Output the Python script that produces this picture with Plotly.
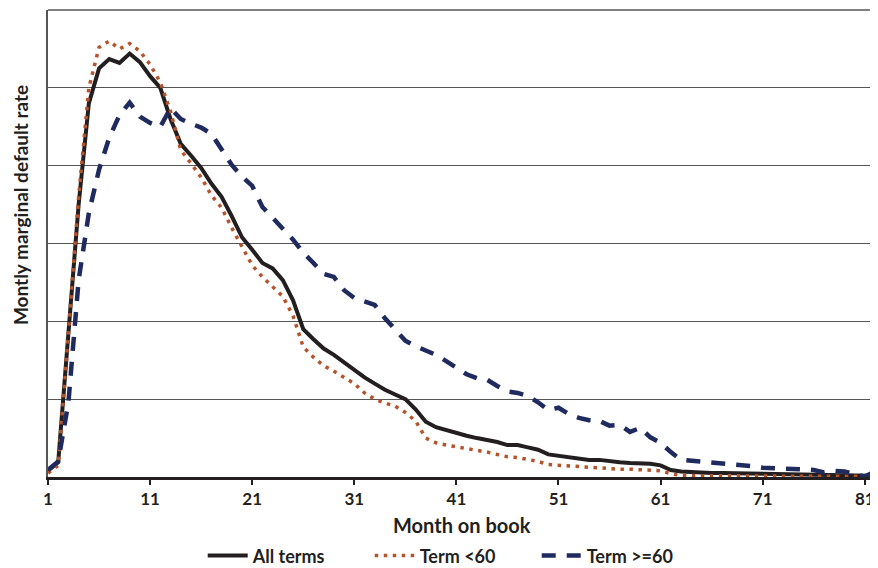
import plotly.graph_objects as go

months = list(range(1, 83))

all_terms = [0.08, 0.19, 1.85, 3.5, 4.8, 5.25, 5.37, 5.32, 5.44, 5.33,
             5.15, 5.0, 4.6, 4.28, 4.13, 3.97, 3.77, 3.6, 3.35, 3.08,
             2.92, 2.75, 2.68, 2.53, 2.27, 1.9, 1.77, 1.65, 1.57, 1.47,
             1.37, 1.28, 1.2, 1.12, 1.06, 1.0, 0.87, 0.71, 0.64, 0.6,
             0.57, 0.53, 0.5, 0.48, 0.45, 0.41, 0.41, 0.38, 0.35, 0.29,
             0.27, 0.25, 0.23, 0.22, 0.22, 0.2, 0.19, 0.18, 0.18, 0.17,
             0.15, 0.09, 0.07, 0.06, 0.055, 0.05, 0.05, 0.048, 0.046, 0.045,
             0.043, 0.04, 0.04, 0.038, 0.035, 0.033, 0.03, 0.028, 0.025, 0.02,
             0.018, 0.015]

term_lt60 = [0.05, 0.15, 1.85, 3.6, 5.0, 5.52, 5.6, 5.5, 5.57, 5.47,
             5.3, 5.07, 4.7, 4.2, 4.03, 3.85, 3.62, 3.46, 3.2, 2.97,
             2.72, 2.57, 2.45, 2.32, 2.07, 1.67, 1.54, 1.43, 1.36, 1.28,
             1.2, 1.08, 1.0, 0.95, 0.91, 0.83, 0.72, 0.5, 0.44, 0.41,
             0.39, 0.36, 0.34, 0.32, 0.29, 0.26, 0.25, 0.23, 0.2, 0.16,
             0.15, 0.14, 0.13, 0.12, 0.12, 0.11, 0.1, 0.1, 0.09, 0.08,
             0.08, 0.04, 0.02, 0.018, 0.016, 0.015, 0.015, 0.014, 0.013, 0.012,
             0.012, 0.011, 0.011, 0.01, 0.01, 0.01, 0.01, 0.01, 0.01, 0.01,
             0.01, 0.01]

term_ge60 = [0.09, 0.2, 0.96, 2.53, 3.39, 3.95, 4.36, 4.65, 4.81, 4.63,
             4.55, 4.5, 4.74, 4.6, 4.54, 4.49, 4.41, 4.2, 4.01, 3.86,
             3.74, 3.47, 3.34, 3.19, 3.05, 2.88, 2.75, 2.61, 2.57, 2.4,
             2.3, 2.25, 2.21, 2.04, 1.89, 1.75, 1.68, 1.63, 1.57, 1.49,
             1.4, 1.32, 1.27, 1.25, 1.17, 1.1, 1.08, 1.04, 0.96, 0.86,
             0.89, 0.81, 0.76, 0.73, 0.72, 0.66, 0.67, 0.58, 0.63, 0.51,
             0.44, 0.32, 0.22, 0.21, 0.2, 0.19, 0.18, 0.17, 0.16, 0.14,
             0.12, 0.115, 0.11, 0.1, 0.095, 0.09, 0.06, 0.08, 0.07, 0.04,
             0.005, 0.07]

x_ticks = [1, 11, 21, 31, 41, 51, 61, 71, 81]

FONT = "Lato"
TXT = "#231f20"

fig = go.Figure()
fig.add_trace(go.Scatter(x=months, y=all_terms, mode="lines", name="All terms",
                         line=dict(color="#231f20", width=4)))
fig.add_trace(go.Scatter(x=months, y=term_lt60, mode="lines", name="Term <60",
                         line=dict(color="#b5532a", width=3.5, dash="3.5px,5.5px")))
fig.add_trace(go.Scatter(x=months, y=term_ge60, mode="lines", name="Term >=60",
                         line=dict(color="#1f2a5e", width=4.5, dash="14px,11px")))

# page body has an 8px margin, so the figure is 870x560 placed at (8, 8)
fig.update_layout(
    width=870, height=560,
    margin=dict(l=40, r=3, t=2, b=91, autoexpand=False),
    paper_bgcolor="white", plot_bgcolor="white",
    font=dict(family=FONT, color=TXT),
    showlegend=True,
    legend=dict(orientation="h", x=0.49, xanchor="center", y=-0.169, yanchor="middle",
                font=dict(family=FONT, size=18, color=TXT, weight="bold"),
                entrywidth=112, itemwidth=40, tracegroupgap=0),
    xaxis=dict(range=[1, 82], tickvals=x_ticks, ticktext=[str(v) for v in x_ticks],
               showgrid=False, zeroline=False, automargin=False,
               showline=True, linecolor="#231f20", linewidth=2.5,
               ticks="outside", ticklen=5, tickwidth=1.5, tickcolor="#231f20",
               tickfont=dict(family=FONT, size=17, color=TXT, weight="bold")),
    yaxis=dict(range=[0, 6], dtick=1, showticklabels=False, automargin=False,
               showgrid=True, gridcolor="#555555", gridwidth=1.2,
               zeroline=False, showline=True, linecolor="#555555", linewidth=1.5,
               mirror=True, ticks=""),
    shapes=[dict(type="line", xref="paper", yref="paper", x0=0, x1=1, y0=1, y1=1,
                 line=dict(color="#555555", width=1.5))],
    annotations=[
        dict(text="Month on book", xref="paper", yref="paper", x=0.5, y=-0.103,
             xanchor="center", yanchor="middle", showarrow=False,
             font=dict(family=FONT, size=20, color=TXT, weight="bold")),
        dict(text="Montly marginal default rate", xref="paper", yref="paper",
             x=-0.034, y=0.582, xanchor="center", yanchor="middle", textangle=-90,
             showarrow=False, font=dict(family=FONT, size=19, color=TXT, weight="bold")),
    ],
)

fig.write_html("out.html")
